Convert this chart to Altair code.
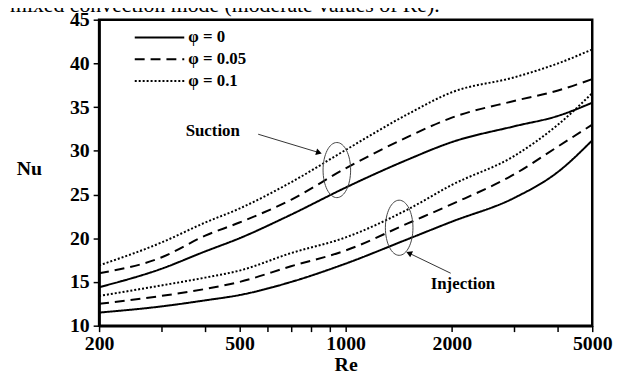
import altair as alt
import pandas as pd

# ---------------- data ----------------
re_vals = [200, 300, 400, 500, 700, 1000, 1500, 2000, 3000, 4000, 5000]

suction_phi0 = [14.4, 16.5, 18.5, 20.0, 22.7, 25.8, 29.0, 31.0, 32.8, 34.0, 35.5]
suction_phi005 = [16.0, 17.8, 20.3, 21.8, 24.4, 28.0, 31.6, 33.8, 35.7, 36.9, 38.2]
suction_phi01 = [16.9, 19.5, 21.8, 23.4, 26.4, 30.1, 34.2, 36.7, 38.4, 40.0, 41.6]

injection_phi0 = [11.5, 12.2, 12.9, 13.5, 15.0, 17.1, 19.9, 21.9, 24.6, 27.6, 31.2]
injection_phi005 = [12.5, 13.4, 14.2, 15.0, 16.8, 18.6, 21.7, 23.9, 27.3, 30.5, 33.0]
injection_phi01 = [13.4, 14.6, 15.5, 16.3, 18.3, 20.1, 23.3, 26.1, 29.4, 33.0, 36.6]

phi_labels = ["\u03c6 = 0", "\u03c6 = 0.05", "\u03c6 = 0.1"]
cases = ["Suction", "Injection"]

x_ticks = [200, 300, 400, 500, 600, 700, 800, 900, 1000, 2000, 3000, 4000, 5000]
x_labels = [200, 500, 1000, 2000, 5000]
y_ticks = [10, 12.5, 15, 17.5, 20, 22.5, 25, 27.5, 30, 32.5, 35, 37.5, 40, 42.5, 45]

# annotations (in data coordinates)
ann_text = ["Suction", "Injection"]
ann_re = [420, 2150]
ann_nu = [32.3, 14.8]
arrow_re_start = [565, 1985]
arrow_nu_start = [31.9, 16.0]
arrow_re_end = [840, 1512]
arrow_nu_end = [29.8, 18.3]
ellipse_re = [944, 1418]
ellipse_nu = [27.8, 21.2]

caption = "mixed convection mode (moderate values of Re)."

# ---------------- tables ----------------
rows = []
for case, series in zip(cases, [[suction_phi0, suction_phi005, suction_phi01],
                                [injection_phi0, injection_phi005, injection_phi01]]):
    for phi, vals in zip(phi_labels, series):
        for r, v in zip(re_vals, vals):
            rows.append({"Re": r, "Nu": v, "phi": phi, "key": case + phi})
df = pd.DataFrame(rows)

ann = pd.DataFrame({"label": ann_text, "Re": ann_re, "Nu": ann_nu,
                    "Re0": arrow_re_start, "Nu0": arrow_nu_start,
                    "Re1": arrow_re_end, "Nu1": arrow_nu_end,
                    "ReE": ellipse_re, "NuE": ellipse_nu})

FONT = "Liberation Serif"

x_scale = alt.Scale(type="log", domain=[200, 5000], nice=False)
y_scale = alt.Scale(domain=[10, 45], nice=False, zero=False)

x_axis = alt.Axis(values=x_ticks, format="d", labelFlush=False,
                  labelExpr="indexof(%s, datum.value) >= 0 ? datum.label : ''" % str(x_labels),
                  title="Re", titleFontSize=20, titlePadding=1)
y_axis = alt.Axis(values=y_ticks, format="d", labelPadding=4,
                  labelExpr="datum.value % 5 === 0 ? datum.label : ''",
                  title="Nu", titleAngle=0, titleFontSize=20,
                  titleX=-71, titleY=150, titleAlign="center", titleBaseline="middle")

lines = alt.Chart(df).mark_line(color="black", strokeWidth=2, interpolate="monotone").encode(
    x=alt.X("Re:Q", scale=x_scale, axis=x_axis),
    y=alt.Y("Nu:Q", scale=y_scale, axis=y_axis),
    strokeDash=alt.StrokeDash(
        "phi:N",
        scale=alt.Scale(domain=phi_labels, range=[[1, 0], [10, 6], [2, 2]]),
        legend=alt.Legend(orient="none", legendX=50, legendY=7, title=None,
                          symbolType="M-2.5,0H2.5", symbolSize=400, symbolStrokeWidth=2,
                          symbolStrokeColor="black", symbolFillColor="transparent",
                          labelFont=FONT, labelFontSize=17,
                          labelFontWeight="bold", labelColor="black", rowPadding=3,
                          labelOffset=18),
    ),
    detail="key:N",
)

base = alt.Chart(ann)

texts = base.mark_text(font=FONT, fontSize=17, fontWeight="bold", color="black").encode(
    x=alt.X("Re:Q", scale=x_scale), y=alt.Y("Nu:Q", scale=y_scale), text="label:N")

arrows = base.mark_rule(color="#333", strokeWidth=1).encode(
    x=alt.X("Re0:Q", scale=x_scale), y=alt.Y("Nu0:Q", scale=y_scale),
    x2="Re1:Q", y2="Nu1:Q")

ann_s = alt.Chart(ann[ann.label == "Suction"])
ann_i = alt.Chart(ann[ann.label == "Injection"])
head_s = ann_s.mark_point(shape="triangle-right", filled=True, color="black", size=45,
                          angle=16, opacity=1).encode(
    x=alt.X("Re1:Q", scale=x_scale), y=alt.Y("Nu1:Q", scale=y_scale))
head_i = ann_i.mark_point(shape="triangle-right", filled=True, color="black", size=45,
                          angle=205, opacity=1).encode(
    x=alt.X("Re1:Q", scale=x_scale), y=alt.Y("Nu1:Q", scale=y_scale))

ellipses = base.mark_point(shape="M-0.5,0A0.5,1 0 1,0 0.5,0A0.5,1 0 1,0 -0.5,0",
                           filled=False, color="#444", strokeWidth=1, size=3100,
                           opacity=1).encode(
    x=alt.X("ReE:Q", scale=x_scale), y=alt.Y("NuE:Q", scale=y_scale))

cap = alt.Chart(pd.DataFrame({"t": [caption]})).mark_text(
    font=FONT, fontSize=22, align="left", baseline="alphabetic", color="black").encode(
    x=alt.value(-90), y=alt.value(-8), text="t:N")

chart = alt.layer(lines, ellipses, arrows, head_s, head_i, texts, cap).properties(
    width=498, height=309,
    autosize=alt.AutoSizeParams(type="none"),
    padding={"left": 92, "top": 10, "right": 24, "bottom": 49},
).configure_view(stroke="black", strokeWidth=2.5).configure_axis(
    grid=False, domainColor="black", domainWidth=2.5, tickColor="black", tickWidth=1.5,
    tickSize=6, labelFont=FONT, labelFontSize=20, labelFontWeight="bold",
    labelColor="black", titleFont=FONT, titleFontWeight="bold", titleColor="black",
    labelPadding=2,
)

chart.save("out.html", embed_options={"renderer": "svg", "actions": False})
